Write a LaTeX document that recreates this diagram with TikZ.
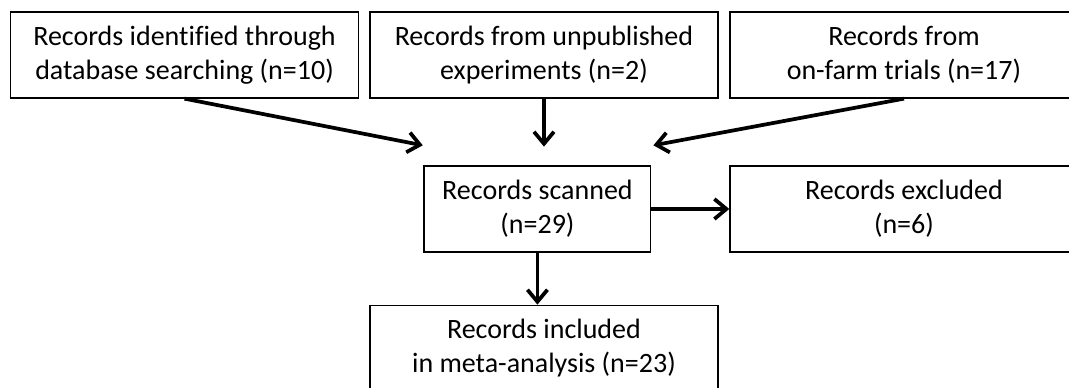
\documentclass[tikz,border=0pt]{standalone}
\usepackage{fontspec}
\setmainfont{Carlito}[Ligatures=NoCommon]
\usetikzlibrary{arrows.meta,positioning}

\begin{document}
\begin{tikzpicture}[auto,
		recbox/.style={rectangle,draw,line width=1pt,align=center,minimum width=261pt,minimum height=64.5pt,
			font=\fontsize{21pt}{25.5pt}\selectfont},
		flow/.style={-{Straight Barb[length=9pt,width=15pt]},line width=2.8pt}]
		\useasboundingbox (-138.4pt,-249.75pt) rectangle (663.4pt,41.25pt);
		% Place nodes
		\node [recbox] (db) {Records identified through\\database searching (n=10)};
		\node [recbox,right of=db,node distance=269.6pt] (unpub) {Records from unpublished\\experiments (n=2)};
		\node [recbox,right of=unpub,node distance=270pt] (farm) {Records from\\on-farm trials (n=17)};
		\node [recbox,below of=unpub,node distance=115.5pt,xshift=-4.9pt,minimum width=170pt] (scanned) {Records scanned\\(n=29)};
		\node [recbox,below of=farm,node distance=115.5pt] (excluded) {Records excluded\\(n=6)};
		\node [recbox,below of=unpub,node distance=220pt] (included) {Records included\\in meta-analysis (n=23)};

		% Arrow ends
		\coordinate [above left=15pt and 86pt of scanned.north] (tipL);
		\coordinate [below=36pt of unpub.south] (tipM);
		\coordinate [above right=15pt and 87pt of scanned.north] (tipR);

		% Connect
		\draw [flow] (db.south) -- (tipL);
		\draw [flow] (unpub.south) -- (tipM);
		\draw [flow] (farm.south) -- (tipR);
		\draw [flow] (scanned.east) -- (excluded.west);
		\draw [flow] (scanned.south) -- (scanned.south |- included.north);
	\end{tikzpicture}
\end{document}
